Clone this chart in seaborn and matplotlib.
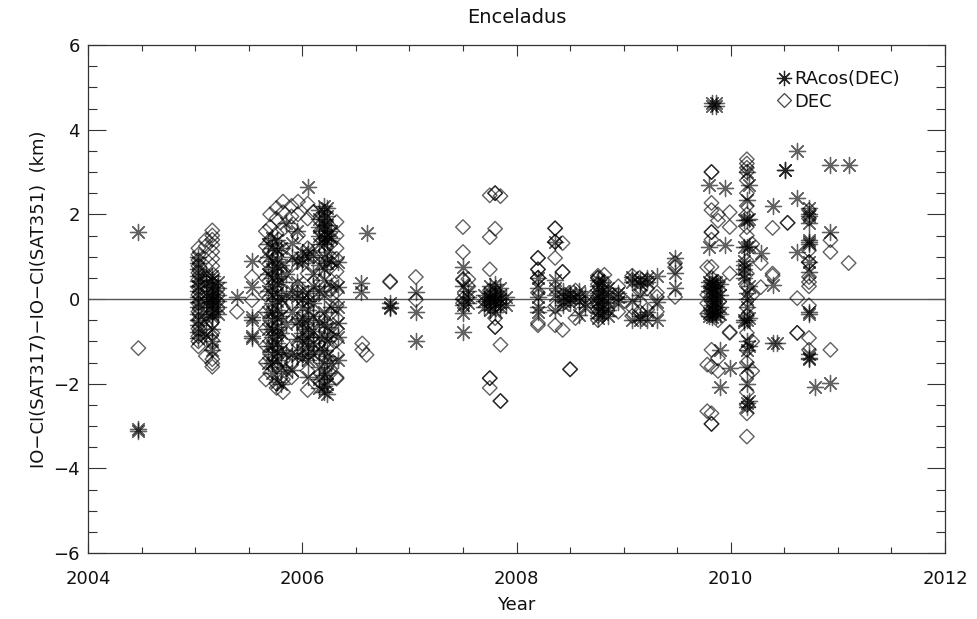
import matplotlib
matplotlib.use("Agg")
import matplotlib.pyplot as plt
import seaborn as sns
import pandas as pd
from matplotlib.ticker import MultipleLocator
from matplotlib.lines import Line2D

# RAcos(DEC) residuals (km), grouped by observation epoch (decimal year)
ra_epochs = [
    2004.47, 2005.03, 2005.10, 2005.16, 2005.21, 2005.39, 2005.53,
    2005.68, 2005.72, 2005.76, 2005.80, 2005.85, 2005.90, 2005.95,
    2006.00, 2006.05, 2006.10, 2006.16, 2006.20, 2006.23, 2006.27,
    2006.33, 2006.55, 2006.60, 2006.82, 2007.06, 2007.50, 2007.55,
    2007.70, 2007.75, 2007.80, 2007.85, 2007.90, 2008.20, 2008.36,
    2008.43, 2008.50, 2008.58, 2008.64, 2008.76, 2008.80, 2008.85,
    2008.95, 2009.08, 2009.15, 2009.22, 2009.31, 2009.48, 2009.80,
    2009.82, 2009.86, 2009.90, 2009.95, 2009.99, 2010.12, 2010.15,
    2010.17, 2010.28, 2010.39, 2010.43, 2010.51, 2010.62, 2010.73,
    2010.79, 2010.93, 2011.10,
]
ra_values = [
    [1.58, -3.08, -3.12],
    [1.0, 0.85, 0.7, 0.55, 0.42, 0.3, 0.18, 0.05, -0.08, -0.2, -0.35, -0.5, -0.62, -0.78, -0.92],
    [0.6, 0.38, 0.15, -0.1, -0.45, -0.85],
    [0.55, 0.45, 0.35, 0.28, 0.2, 0.12, 0.05, 0.0, -0.05, -0.12, -0.2, -0.28, -0.35, -0.42, -0.7, -1.0, -1.2],
    [0.4, 0.25, 0.1, -0.05, -0.2, -0.35],
    [0.05],
    [0.9, 0.28, -0.43, -0.5, -0.88, -0.92],
    [1.3, 1.0, 0.6, 0.2, -0.3, -0.7, -1.1, -1.5],
    [1.45, 1.2, 0.9, 0.7, 0.5, 0.3, 0.1, -0.1, -0.3, -0.5, -0.7, -0.9, -1.1, -1.3, -1.5, -1.75],
    [1.4, 1.15, 0.95, 0.75, 0.55, 0.35, 0.15, -0.05, -0.25, -0.45, -0.65, -0.85, -1.05, -1.25, -1.45, -1.95],
    [1.2, 0.8, 0.4, 0.0, -0.4, -0.8, -1.2, -1.6, -2.0],
    [1.8, 0.6, 0.1, -0.6, -1.3, -1.7],
    [1.32, 1.0, 0.2, -0.3, -1.28, -1.68],
    [1.6, 0.9, 0.4, 0.05, -0.55, -0.95, -1.35],
    [1.1, 0.95, 0.85, 0.2, 0.0, -0.2, -0.45, -0.6, -0.8, -1.0, -1.2, -1.4],
    [2.65, 1.15, 1.0, 0.15, -0.05, -0.25, -0.5, -0.7, -0.9, -1.1, -1.3, -1.45, -1.85],
    [1.05, 0.6, 0.3, -0.1, -0.4, -0.75, -1.05, -1.3],
    [2.1, 1.9, 1.7, 1.5, 1.3, 0.8, 0.2, -0.55, -0.9, -1.2, -1.6, -1.9, -2.1],
    [2.2, 2.05, 1.9, 1.75, 1.6, 1.45, 1.3, 1.0, 0.7, 0.45, 0.1, -0.3, -0.6, -0.9, -1.2, -1.5, -1.8, -2.05, -2.2],
    [2.15, 1.95, 1.75, 1.5, 1.4, 1.1, 0.85, -0.65, -1.0, -1.35, -1.75, -2.0, -2.25],
    [1.6, 1.45, 0.9, 0.3, -0.2, -0.8, -1.5],
    [0.87, 0.28, -0.2, -0.57, -0.9, -1.45],
    [0.38, 0.17],
    [1.56],
    [-0.1, -0.18, -0.22],
    [0.17, -0.3, -1.0],
    [0.76, 0.3, 0.0, -0.15, -0.33, -0.78],
    [0.2, 0.05, -0.1],
    [0.1, -0.05, -0.2],
    [0.3, 0.15, 0.05, -0.05, -0.15, -0.25, 0.0],
    [0.35, 0.2, 0.08, -0.02, -0.12, -0.3],
    [0.25, 0.1, 0.0, -0.1, -0.2],
    [0.05, -0.15],
    [0.5, 0.25, 0.05, -0.19, -0.3],
    [1.35, 0.45, 0.25, 0.1, -0.26],
    [0.2, 0.05, -0.05, -0.15],
    [0.15, 0.0, -0.1, 0.1],
    [0.05, -0.05, -0.38, 0.2],
    [0.1, -0.1, -0.2],
    [0.45, 0.3, 0.15, 0.05, -0.05, -0.15, -0.3, -0.45],
    [0.4, 0.2, 0.0, -0.2, -0.35],
    [0.25, 0.1, -0.1, -0.25, -0.4],
    [0.05, -0.08, 0.15],
    [0.52, 0.4, -0.05, -0.5],
    [0.45, 0.35, 0.1, -0.4, -0.5],
    [0.5, 0.4, -0.3, -0.5],
    [0.55, -0.07, -0.5],
    [0.97, 0.62, 0.26],
    [2.7, 1.23, 0.4, 0.3, 0.2, -0.33, -0.4],
    [4.55, 4.62, 0.45, 0.35, 0.25, 0.15, 0.05, -0.05, -0.15, -0.25, -0.35, -0.42],
    [4.55, 4.62, 0.4, 0.3, 0.2, 0.1, 0.0, -0.1, -0.2, -0.3, -0.4],
    [0.35, 0.1, -0.2, -0.35, -1.2, -2.08],
    [2.62, 1.28],
    [-1.63],
    [0.9, 0.8, 0.7, 0.6, 0.5, 1.23, 1.86, -0.5, -0.55],
    [3.0, 2.34, 1.86, 1.23, 0.15, 0.0, -0.2, -0.5, -1.0, -1.2, -1.6, -2.0, -2.45, -2.55],
    [2.7, 1.9, 1.25, 0.3, -0.45, -1.1, -2.4],
    [1.08],
    [2.2, 0.33, -1.05],
    [-1.05],
    [3.05, 3.05],
    [3.5, 2.39, 1.1],
    [2.15, 2.0, 1.95, 1.8, 1.4, 1.35, 1.3, 0.87, 0.64, -0.3, -0.35, -1.3, -1.4, -1.42],
    [-2.08],
    [3.17, 1.58, -1.98],
    [3.17],
]

# DEC residuals (km), grouped by observation epoch (decimal year)
dec_epochs = [
    2004.47, 2005.03, 2005.10, 2005.16, 2005.39, 2005.53,
    2005.66, 2005.70, 2005.76, 2005.82, 2005.90, 2005.96, 2006.05,
    2006.10, 2006.17, 2006.26, 2006.32, 2006.56, 2006.60, 2006.82,
    2007.06, 2007.50, 2007.55, 2007.75, 2007.80, 2007.85, 2008.20,
    2008.36, 2008.43, 2008.50, 2008.55, 2008.76, 2008.82, 2008.95,
    2009.08, 2009.15, 2009.22, 2009.31, 2009.48, 2009.78, 2009.82,
    2009.88, 2009.99, 2010.15, 2010.20, 2010.28, 2010.39, 2010.53,
    2010.62, 2010.73, 2010.93, 2011.10,
]
dec_values = [
    [-1.16],
    [1.2, 1.05, 0.92, 0.78, 0.62, 0.45, 0.28, 0.1, -0.1, -0.3, -0.5, -0.7, -0.88, -1.0, -1.12],
    [1.4, 1.25, 0.5, -0.72, -1.35],
    [1.62, 1.5, 1.4, 1.28, 1.12, 0.95, 0.78, 0.6, -0.3, -0.55, -0.8, -0.98, -1.2, -1.42, -1.52, -1.6],
    [-0.3],
    [0.52, -0.03],
    [1.6, 1.25, 0.9, 0.5, 0.1, -0.3, -0.7, -1.1, -1.5, -1.9],
    [2.0, 1.7, 1.4, 0.7, -0.5, -1.3, -1.75],
    [2.15, 1.9, 1.55, 1.0, 0.3, -0.9, -1.6, -2.0, -2.1],
    [2.3, 2.05, 1.65, 1.2, 0.6, -0.2, -1.0, -1.45, -1.9, -2.2],
    [2.2, 1.95, 1.7, 0.8, -0.1, -1.5, -1.85],
    [2.3, 2.0, 1.5, 0.3, -0.5, -1.05],
    [2.25, 1.9, 1.2, 0.6, -0.8, -1.7, -2.15],
    [2.05, 1.0, 0.1, -1.0],
    [1.6, 0.4, -0.45, -1.3, -1.95],
    [1.7, 1.3, 0.75, 0.2, -0.35, -1.1, -1.75],
    [1.82, 1.5, 1.2, 0.95, 0.65, 0.4, 0.18, -0.15, -0.45, -0.7, -0.98, -1.3, -1.85, -1.88],
    [-1.05, -1.2],
    [-1.32],
    [0.4, 0.42],
    [0.52, -0.02],
    [1.7, 1.11, 0.45, 0.47, 0.0, -0.1],
    [0.47, 0.3],
    [2.45, 1.46, 0.7, -1.87, -1.87, -2.1, 0.2, -0.1],
    [2.5, 2.5, 1.66, -0.66, -0.66, -0.45, 0.1],
    [2.43, -1.08, -2.41, -2.41],
    [0.97, 0.97, 0.7, 0.7, 0.5, 0.5, 0.15, -0.57, -0.62],
    [1.67, 1.67, 1.35, 1.35, 0.97, -0.18, -0.62],
    [0.64, 0.64, 1.32, -0.73],
    [-1.66, -1.66, 0.1],
    [-0.45, 0.2],
    [0.55, 0.5, 0.5, 0.35, 0.2, 0.05, -0.1, -0.25, -0.4, -0.5],
    [0.57, 0.4, 0.25, 0.05, -0.15, -0.35],
    [0.3, 0.1, -0.3],
    [0.55, 0.45, -0.2, -0.4],
    [0.5, 0.2, -0.3],
    [0.45, 0.25, -0.25],
    [0.15, 0.05, -0.3],
    [0.85, 0.75, 0.05],
    [0.75, 0.1, -0.1, -0.35, -1.55, -2.65],
    [3.0, 3.0, 2.27, 2.1, 1.58, 1.58, 1.4, 0.76, 0.5, -0.05, -1.2, -1.6, -2.7, -2.95, -2.95],
    [2.0, 1.85, 0.4, -0.5, -1.4, -1.7],
    [2.05, 1.7, 0.6, -0.78, -0.8],
    [3.3, 3.2, 3.1, 3.0, 2.8, 2.5, 2.2, 2.0, 1.7, 1.5, 0.9, 0.6, 0.3, -0.2, -0.4, -0.8,
     -1.2, -1.5, -1.8, -2.2, -2.5, -2.7, -3.25],
    [1.3, 0.1, -1.0, -1.7],
    [0.85, 0.28],
    [1.68, 0.55, 0.6],
    [1.8, 1.8],
    [0.02, -0.8, -0.8],
    [2.1, 1.9, 1.15, 0.87, 0.87, 0.52, 0.4, 0.3, -0.15, -0.92, -1.2],
    [1.39, 1.11, -1.2],
    [0.85],
]

x_ticks = [2004, 2006, 2008, 2010, 2012]
y_ticks = [-6, -4, -2, 0, 2, 4, 6]


def long_form(epochs, values):
    df = pd.DataFrame({"year": epochs, "resid": values}).explode("resid")
    df["resid"] = df["resid"].astype(float)
    return df


ra_df = long_form(ra_epochs, ra_values)
dec_df = long_form(dec_epochs, dec_values)

sns.set_theme(style="white")
plt.rcParams["font.family"] = ["DejaVu Sans"]
plt.rcParams["text.color"] = "#111111"
plt.rcParams["axes.labelcolor"] = "#111111"
plt.rcParams["xtick.color"] = "#111111"
plt.rcParams["ytick.color"] = "#111111"

fig = plt.figure(figsize=(9.77, 6.19), dpi=100)
ax = fig.add_axes([0.0901, 0.1066, 0.8772, 0.8207])

ink = (0.0, 0.0, 0.0, 0.62)
star = (8, 2, 0)

ax.axhline(0, color="#555555", lw=1.0, zorder=1)

sns.scatterplot(data=ra_df, x="year", y="resid", marker=star, s=135,
                color="black", linewidth=0.95, ax=ax, zorder=3)
ax.collections[-1].set_edgecolor(ink)
ax.collections[-1].set_facecolor(ink)

sns.scatterplot(data=dec_df, x="year", y="resid", marker="D", s=55,
                color="black", linewidth=1.0, ax=ax, zorder=2)
ax.collections[-1].set_facecolor("none")
ax.collections[-1].set_edgecolor(ink)

ax.set_xlim(2004, 2012)
ax.set_ylim(-6, 6)
ax.set_xticks(x_ticks)
ax.set_yticks(y_ticks)
ax.xaxis.set_minor_locator(MultipleLocator(0.5))
ax.yaxis.set_minor_locator(MultipleLocator(0.5))
ax.tick_params(axis="x", which="major", direction="in", length=8, width=0.8,
               color="#333333", top=True, bottom=True, pad=12, labelsize=13)
ax.tick_params(axis="x", which="minor", direction="in", length=4, width=0.8,
               color="#333333", top=True, bottom=True)
ax.tick_params(axis="y", which="major", direction="in", length=13, width=0.8,
               color="#333333", left=True, right=True, pad=6, labelsize=13)
ax.tick_params(axis="y", which="minor", direction="in", length=6.5, width=0.8,
               color="#333333", left=True, right=True)
for sp in ax.spines.values():
    sp.set_color("#333333")
    sp.set_linewidth(0.9)

ax.set_xlabel("Year", fontsize=13, labelpad=6)
ax.set_ylabel("IO\u2212CI(SAT317)\u2212IO\u2212CI(SAT351)  (km)", fontsize=13, labelpad=4)
ax.set_title("Enceladus", fontsize=14, pad=16)

handles = [
    Line2D([], [], marker=star, linestyle="none", color="#222222", markersize=11,
           markeredgewidth=0.9),
    Line2D([], [], marker="D", linestyle="none", markerfacecolor="none",
           markeredgecolor="#444444", markersize=7, markeredgewidth=0.9),
]
ax.legend(handles, ["RAcos(DEC)", "DEC"], loc="upper left",
          bbox_to_anchor=(0.795, 0.965), frameon=False, fontsize=13,
          handlelength=0.8, handletextpad=0.2, labelspacing=0.25,
          borderaxespad=0)

fig.savefig("out.png", dpi=100)
